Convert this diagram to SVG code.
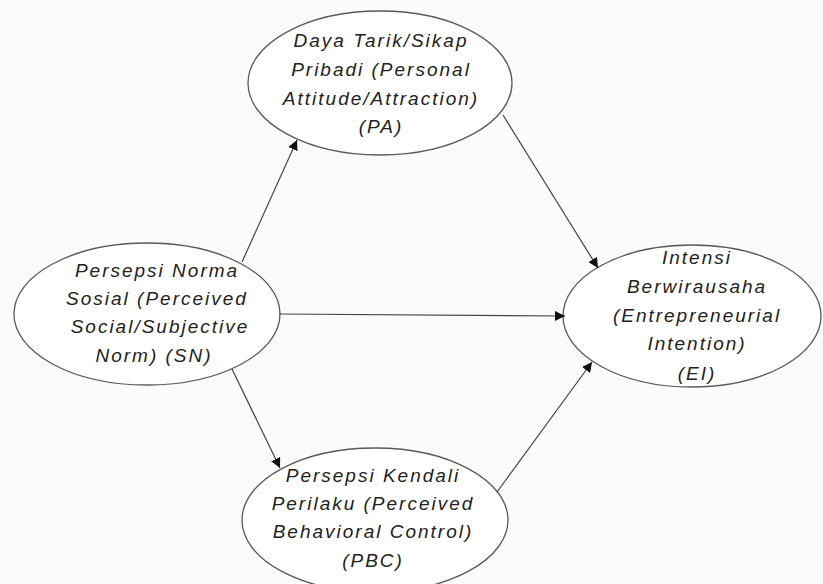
<svg xmlns="http://www.w3.org/2000/svg" width="823" height="584" viewBox="0 0 823 584">
<style>
.node ellipse{fill:#ffffff;stroke:#5a5a5a;stroke-width:1.3}
.node text{font-family:"Liberation Sans",Arial,sans-serif;font-style:italic;font-size:19px;fill:#222222;text-anchor:middle;letter-spacing:2px}
.edges line{stroke:#444444;stroke-width:1.2;marker-end:url(#arr)}
</style>
<defs>
<marker id="arr" viewBox="0 0 10 10" refX="10" refY="5" markerWidth="10" markerHeight="10" markerUnits="userSpaceOnUse" orient="auto">
<path d="M0,0 L10,5 L0,10 Z" fill="#111111"/>
</marker>
</defs>
<rect width="823" height="584" fill="#fbfbfb"/>
<g id="node-PA" class="node">
<ellipse cx="380" cy="83" rx="132" ry="72"/>
<text x="381" y="47">Daya Tarik/Sikap</text>
<text x="381" y="76">Pribadi (Personal</text>
<text x="381" y="105">Attitude/Attraction)</text>
<text x="381" y="133">(PA)</text>
</g>
<g id="node-SN" class="node">
<ellipse cx="147" cy="314" rx="133" ry="71"/>
<text x="157" y="277">Persepsi Norma</text>
<text x="157" y="305">Sosial (Perceived</text>
<text x="160" y="333">Social/Subjective</text>
<text x="154" y="362">Norm) (SN)</text>
</g>
<g id="node-EI" class="node">
<ellipse cx="692" cy="316" rx="129" ry="71"/>
<text x="697" y="264">Intensi</text>
<text x="697" y="293">Berwirausaha</text>
<text x="697" y="322">(Entrepreneurial</text>
<text x="697" y="350">Intention)</text>
<text x="697" y="380">(EI)</text>
</g>
<g id="node-PBC" class="node">
<ellipse cx="375" cy="520" rx="133" ry="72"/>
<text x="373" y="482">Persepsi Kendali</text>
<text x="373" y="510">Perilaku (Perceived</text>
<text x="373" y="538">Behavioral Control)</text>
<text x="373" y="567">(PBC)</text>
</g>
<g id="edges" class="edges">
<line x1="242" y1="262" x2="297" y2="140"/>
<line x1="503" y1="115" x2="598" y2="268"/>
<line x1="279" y1="314" x2="565" y2="316"/>
<line x1="232" y1="369" x2="280" y2="468"/>
<line x1="497" y1="492" x2="592" y2="362"/>
</g>
</svg>
